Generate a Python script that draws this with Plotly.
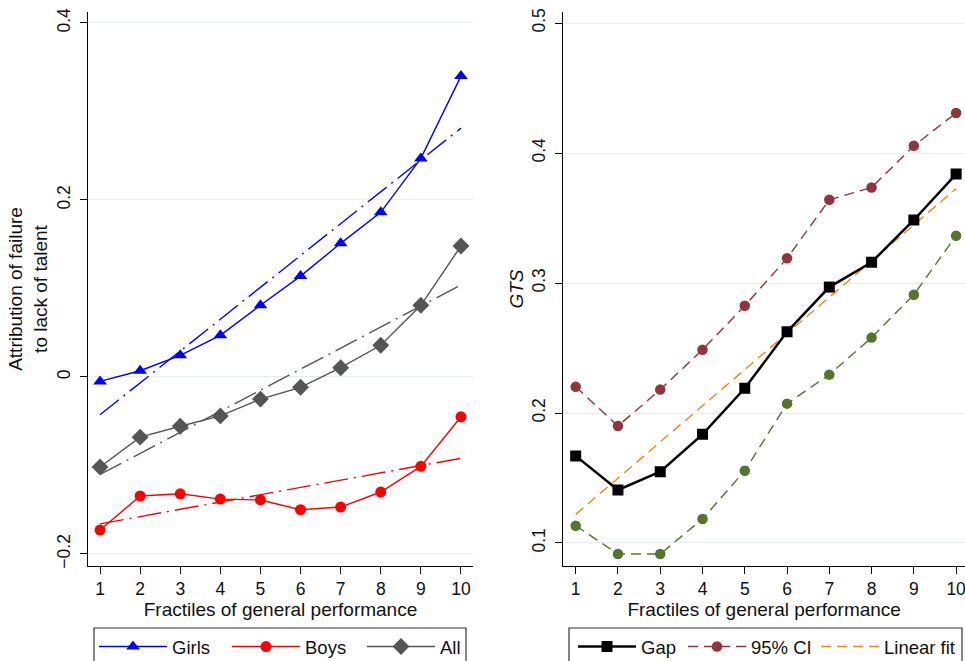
import numpy as np
import plotly.graph_objects as go

W, H = 965, 661
OFF = 0

fractiles = [1, 2, 3, 4, 5, 6, 7, 8, 9, 10]

girls = [-0.005, 0.007, 0.0245, 0.047, 0.081, 0.114, 0.151, 0.186, 0.247, 0.340]
boys = [-0.173, -0.1345, -0.132, -0.138, -0.139, -0.150, -0.147, -0.130, -0.101, -0.045]
all_ = [-0.1017, -0.068, -0.0557, -0.044, -0.025, -0.0117, 0.0105, 0.0358, 0.081, 0.148]

gap = [0.167, 0.1408, 0.1549, 0.1836, 0.219, 0.2625, 0.2969, 0.316, 0.3485, 0.3838]
ci_upper = [0.2202, 0.190, 0.218, 0.2487, 0.2825, 0.319, 0.364, 0.3735, 0.4056, 0.4308]
ci_lower = [0.1133, 0.0915, 0.0915, 0.1185, 0.1556, 0.2072, 0.2295, 0.258, 0.291, 0.3364]

left_yticks = [-0.2, 0, 0.2, 0.4]
left_yticklabels = ["\u22120.2", "0", "0.2", "0.4"]
right_yticks = [0.1, 0.2, 0.3, 0.4, 0.5]
right_yticklabels = ["0.1", "0.2", "0.3", "0.4", "0.5"]

BLUE = "#0000ff"
RED = "#ff0000"
GRAY = "#555555"
MAROON = "#90353b"
GREEN = "#55752f"
ORANGE = "#e8871e"
GRID = "#e6eef0"
FONT = "Liberation Sans"
TXT = "#111111"


def fit(x, y):
    b, a = np.polyfit(np.array(x, float), np.array(y, float), 1)
    return [a + b * v for v in x]


def px_x(p):
    return (p - OFF) / W


def px_y(p):
    return (H - (p - OFF)) / H


LDD = "24px,6px,2px,6px"
DASH = "10px,6px"

fig = go.Figure()

# ---- Left panel ----
for ys, col in [(girls, BLUE), (boys, RED), (all_, GRAY)]:
    fig.add_trace(go.Scatter(x=fractiles, y=fit(fractiles, ys), mode="lines",
                             line=dict(color=col, width=1.4, dash=LDD),
                             showlegend=False, hoverinfo="skip",
                             xaxis="x", yaxis="y"))

fig.add_trace(go.Scatter(x=fractiles, y=girls, mode="lines+markers", name="Girls",
                         line=dict(color=BLUE, width=1.4),
                         marker=dict(symbol="triangle-up", size=12, color=BLUE),
                         legend="legend", xaxis="x", yaxis="y"))
fig.add_trace(go.Scatter(x=fractiles, y=boys, mode="lines+markers", name="Boys",
                         line=dict(color=RED, width=1.4),
                         marker=dict(symbol="circle", size=11, color=RED),
                         legend="legend3", xaxis="x", yaxis="y"))
fig.add_trace(go.Scatter(x=fractiles, y=all_, mode="lines+markers", name="All",
                         line=dict(color=GRAY, width=1.4),
                         marker=dict(symbol="diamond", size=13, color=GRAY),
                         legend="legend4", xaxis="x", yaxis="y"))

# ---- Right panel ----
fig.add_trace(go.Scatter(x=fractiles, y=ci_upper, mode="lines+markers", name="95% CI",
                         line=dict(color=MAROON, width=1.4, dash=DASH),
                         marker=dict(symbol="circle", size=10.5, color=MAROON),
                         legend="legend5", xaxis="x2", yaxis="y2"))
fig.add_trace(go.Scatter(x=fractiles, y=ci_lower, mode="lines+markers", name="95% CI lower",
                         line=dict(color=GREEN, width=1.4, dash=DASH),
                         marker=dict(symbol="circle", size=10.5, color=GREEN),
                         showlegend=False, xaxis="x2", yaxis="y2"))
fig.add_trace(go.Scatter(x=fractiles, y=fit(fractiles, gap), mode="lines", name="Linear fit",
                         line=dict(color=ORANGE, width=1.4, dash=DASH),
                         legend="legend6", xaxis="x2", yaxis="y2"))
fig.add_trace(go.Scatter(x=fractiles, y=gap, mode="lines+markers", name="Gap",
                         line=dict(color="black", width=2.5),
                         marker=dict(symbol="square", size=11, color="black"),
                         legend="legend2", xaxis="x2", yaxis="y2"))

ydom = [px_y(566), px_y(12)]

common_x = dict(showline=True, linecolor="black", linewidth=1.2, ticks="outside",
                ticklen=7, tickcolor="black", showgrid=False, zeroline=False,
                tickvals=fractiles, ticktext=[str(v) for v in fractiles],
                ticklabeloverflow="allow",
                tickfont=dict(family=FONT, size=17.5, color=TXT),
                title=dict(text="Fractiles of general performance",
                           font=dict(family=FONT, size=19, color=TXT), standoff=2))
common_y = dict(showline=True, linecolor="black", linewidth=1.2, ticks="outside",
                ticklen=7, tickcolor="black", showgrid=True, gridcolor=GRID,
                gridwidth=1, zeroline=False, tickangle=-90, ticklabelstandoff=3,
                ticklabeloverflow="allow",
                tickfont=dict(family=FONT, size=17.5, color=TXT))


def one_legend(text_x, iw):
    return dict(orientation="h", xanchor="left", x=px_x(text_x - iw - 11),
                y=px_y(628), yanchor="top", borderwidth=0,
                bgcolor="rgba(0,0,0,0)", itemwidth=iw,
                font=dict(family=FONT, size=18.5, color=TXT))


box = dict(type="rect", xref="paper", yref="paper", layer="above",
           line=dict(color="#333333", width=1.2), fillcolor="rgba(0,0,0,0)")

fig.update_layout(
    width=W, height=H,
    margin=dict(l=0, r=0, t=0, b=0, autoexpand=False),
    paper_bgcolor="white", plot_bgcolor="white",
    font=dict(family=FONT, color=TXT),
    xaxis=dict(domain=[px_x(88), px_x(473)], range=[0.7, 10.3], anchor="y", **common_x),
    yaxis=dict(domain=ydom, range=[-0.2136, 0.4124], anchor="x",
               tickvals=left_yticks, ticktext=left_yticklabels,
               title=dict(text="Attribution of failure<br>to lack of talent",
                          font=dict(family=FONT, size=19, color=TXT), standoff=1),
               **common_y),
    xaxis2=dict(domain=[px_x(563.3), 1.0], range=[0.707, 10.21], anchor="y2", **common_x),
    yaxis2=dict(domain=ydom, range=[0.0823, 0.5085], anchor="x2",
                tickvals=right_yticks, ticktext=right_yticklabels,
                title=dict(text="<i>GTS</i>", font=dict(family=FONT, size=19, color=TXT),
                           standoff=0),
                **common_y),
    legend=one_legend(173, 68),
    legend3=one_legend(306, 68),
    legend4=one_legend(441, 68),
    legend2=one_legend(642, 58),
    legend5=one_legend(752, 58),
    legend6=one_legend(885, 58),
    shapes=[
        dict(x0=px_x(94), x1=px_x(466), y0=px_y(690), y1=px_y(628), **box),
        dict(x0=px_x(569), x1=px_x(962), y0=px_y(690), y1=px_y(628), **box),
    ],
)

# remove the browser's default 8px page margin so the 965x661 figure fills the window exactly
fig.write_html("out.html", config={"displayModeBar": False},
               post_script="document.body.style.margin='0';")
